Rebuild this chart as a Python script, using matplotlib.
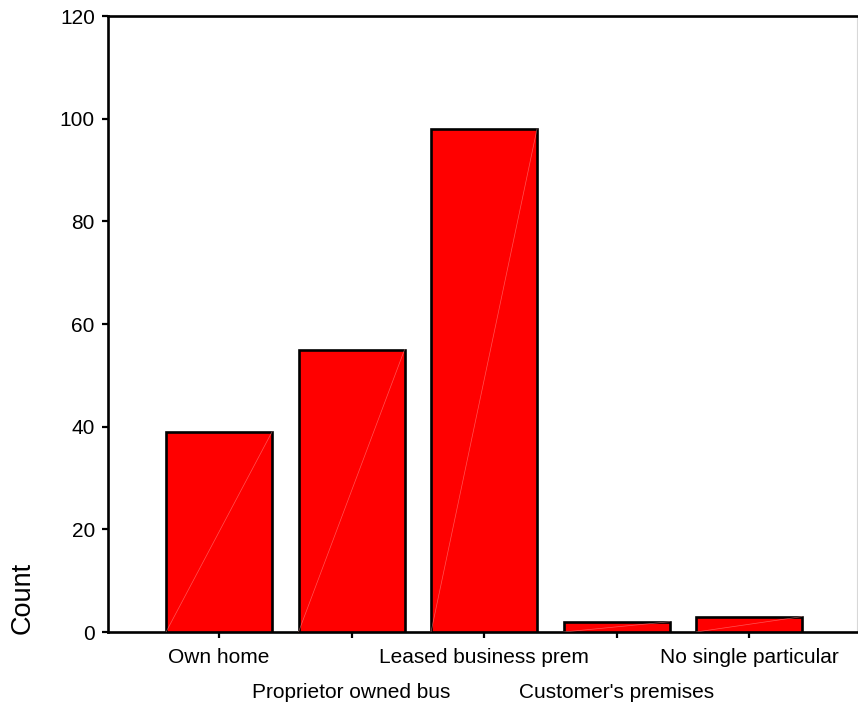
import matplotlib
matplotlib.use("Agg")
import matplotlib.pyplot as plt
import numpy as np

categories = ["Own home", "Proprietor owned bus", "Leased business prem",
              "Customer's premises", "No single particular"]
counts = [39, 55, 98, 2, 3]
y_ticks = [0, 20, 40, 60, 80, 100, 120]

plt.rcParams["font.family"] = ["Liberation Sans", "DejaVu Sans"]

fig = plt.figure(figsize=(8.58, 7.06), dpi=100)
ax = fig.add_axes([108 / 858, 1 - 632 / 706, 749 / 858, 616 / 706])

x = np.arange(len(categories))
width = 0.8
bars = ax.bar(x, counts, width=width, color="#ff0000", edgecolor="black",
              linewidth=1.9, zorder=3)

# faint seam running diagonally across each filled bar
for xi, c in zip(x, counts):
    ax.plot([xi - width / 2, xi + width / 2], [0, c], color="#ff9a9a",
            linewidth=0.5, alpha=0.55, zorder=4)

ax.set_xlim(-0.838, 4.815)
ax.set_ylim(0, 120)
ax.set_yticks(y_ticks)
ax.set_xticks(x)
ax.set_xticklabels(categories)

ax.tick_params(axis="both", labelsize=15, length=4, width=1.6, color="black")
ax.tick_params(axis="x", pad=7.2)
ax.tick_params(axis="y", pad=5.5)
for i, tick in enumerate(ax.xaxis.get_major_ticks()):
    if i % 2 == 1:
        tick.set_pad(32.5)

for side in ["left", "bottom", "top"]:
    ax.spines[side].set_linewidth(1.9)
    ax.spines[side].set_color("black")
ax.spines["right"].set_linewidth(0.8)
ax.spines["right"].set_color("#d8d8d8")

fig.text(23 / 858, 1 - 598 / 706, "Count", rotation=90, ha="center",
         va="center", fontsize=19.5)

fig.savefig("out.png", dpi=100)
